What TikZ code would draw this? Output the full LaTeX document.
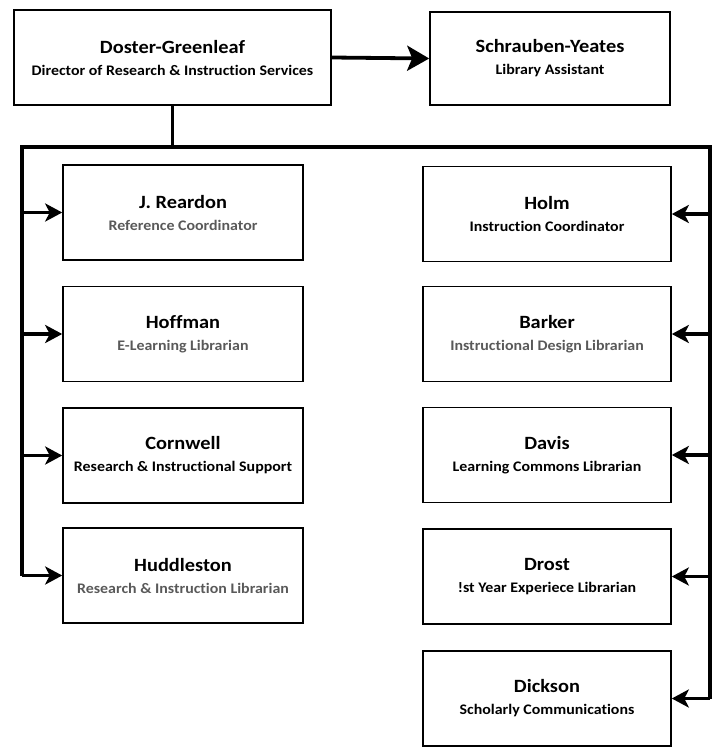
\documentclass[tikz,border=0pt]{standalone}
\usepackage{fontspec}
\setmainfont{Carlito}[FakeStretch=1.09, Ligatures=CommonOff]
\usetikzlibrary{arrows.meta}
\definecolor{subgray}{HTML}{595959}
\tikzset{
  box/.style={draw, line width=1.6bp, rectangle, align=center, inner sep=0pt,
    font=\fontsize{14.6bp}{22bp}\selectfont\bfseries},
  leftbox/.style={box, minimum width=240bp, minimum height=95bp},
  rightbox/.style={box, minimum width=248bp, minimum height=95bp},
  conn/.style={line width=3.8bp},
  arr/.style={conn, -{Stealth[length=17bp,width=18bp,inset=4.5bp]}},
  bigarr/.style={conn, -{Stealth[length=22bp,width=25bp,inset=5bp]}},
}
\newcommand{\pname}[1]{{\fontsize{18.7bp}{22bp}\selectfont #1}}
\newcommand{\gsub}[1]{{\color{subgray}#1}}
\begin{document}
\begin{tikzpicture}[x=1bp,y=-1bp]
\useasboundingbox (0,0) rectangle (719,747);
% top
\node[box, minimum width=317bp, minimum height=95bp] (doster) at (172.5,57.5)
  {\pname{Doster-Greenleaf}\\Director of Research \& Instruction Services};
\node[box, minimum width=240bp, minimum height=93bp] (schr) at (550,58.5)
  {\pname{Schrauben-Yeates}\\Library Assistant};
% left column
\node[leftbox] (reardon) at (183,212.5) {\pname{J. Reardon}\\\gsub{Reference Coordinator}};
\node[leftbox] (hoffman) at (183,334) {\pname{Hoffman}\\\gsub{E-Learning Librarian}};
\node[leftbox] (cornwell) at (183,455.5) {\pname{Cornwell}\\Research \& Instructional Support};
\node[leftbox] (huddle) at (183,575.5) {\pname{Huddleston}\\\gsub{Research \& Instruction Librarian}};
% right column
\node[rightbox] (holm) at (547,214) {\pname{Holm}\\Instruction Coordinator};
\node[rightbox] (barker) at (547,334) {\pname{Barker}\\\gsub{Instructional Design Librarian}};
\node[rightbox] (davis) at (547,455) {\pname{Davis}\\Learning Commons Librarian};
\node[rightbox] (drost) at (547,576.5) {\pname{Drost}\\!st Year Experiece Librarian};
\node[rightbox] (dickson) at (547,698.5) {\pname{Dickson}\\Scholarly Communications};
% bus
\coordinate (busL) at (22,147);
\coordinate (busR) at (710,147);
% connectors
\draw[bigarr] (doster.east) -- (schr.west);
\draw[conn] (doster.south) -- (doster.south |- busL);
\draw[conn, line join=miter] (huddle.west -| busL) -- (busL) -- (busR) -- (busR |- dickson.east);
\draw[arr] (busL |- reardon.west) -- (reardon.west);
\draw[arr] (busL |- hoffman.west) -- (hoffman.west);
\draw[arr] (busL |- cornwell.west) -- (cornwell.west);
\draw[arr] (busL |- huddle.west) -- (huddle.west);
\draw[arr] (busR |- holm.east) -- (holm.east);
\draw[arr] (busR |- barker.east) -- (barker.east);
\draw[arr] (busR |- davis.east) -- (davis.east);
\draw[arr] (busR |- drost.east) -- (drost.east);
\draw[arr] (busR |- dickson.east) -- (dickson.east);
\end{tikzpicture}
\end{document}
